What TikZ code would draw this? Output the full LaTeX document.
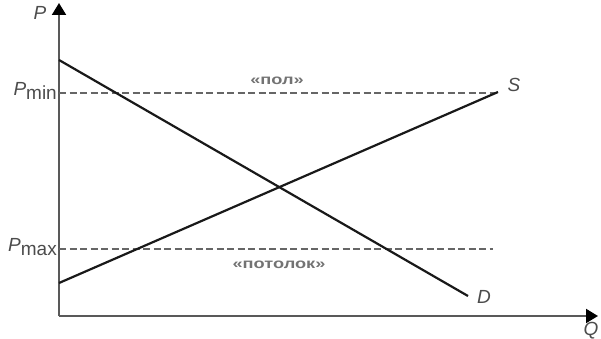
\documentclass[tikz,border=0pt]{standalone}
\usepackage{fontspec}
\setmainfont{Liberation Sans}
\newfontfamily\levelfont[FakeStretch=1.3]{Liberation Sans}
\usetikzlibrary{arrows.meta, positioning}

\tikzset{
    axis/.style={draw=black!65, line width=2pt, -{Triangle[length=12pt,width=14pt,black]}},
    curve/.style={draw=black!90, line width=2.2pt},
    level/.style={draw=black!60, line width=1.4pt, dash pattern=on 7pt off 3.5pt},
    biglab/.style={font=\fontsize{19}{19}\selectfont\itshape, text=black!70, inner sep=0pt},
    smalllab/.style={font=\levelfont\fontsize{14}{14}\selectfont\bfseries, text=black!55, inner sep=0pt}
}

\begin{document}
\begin{tikzpicture}[x=1pt,y=-1pt]
\useasboundingbox (0,0) rectangle (601,339);

% Axes
\coordinate (O) at (59,316);
\coordinate (Ptop) at (59,3);
\coordinate (Qend) at (598,316);
\draw[axis] (O) -- (Ptop);
\draw[axis] (O) -- (Qend);
\node[biglab] (Plab) at (40,13) {P};
\node[biglab] (Qlab) at (591,331) {Q};

% Price levels
\coordinate (minL) at (59,93);
\coordinate (minR) at (497,93);
\coordinate (maxL) at (59,249);
\coordinate (maxR) at (493,249);
\draw[level] (minL) -- (minR);
\draw[level] (maxL) -- (maxR);
\node[biglab, anchor=east] (Pmin) at (57,91) {P\raisebox{-4pt}{\upshape min}};
\node[biglab, anchor=east] (Pmax) at (57,247) {P\raisebox{-4pt}{\upshape max}};

% Labels for floor and ceiling
\node[smalllab] (floor) at (277,81) {«пол»};
\node[smalllab] (ceil) at (279,265) {«потолок»};

% Demand and supply
\coordinate (Dstart) at (59,60);
\coordinate (Dend) at (468,296);
\coordinate (Sstart) at (59,283);
\coordinate (Send) at (498,92);
\draw[curve] (Dstart) -- (Dend);
\draw[curve] (Sstart) -- (Send);
\node[biglab] (Slab) at (514,85) {S};
\node[biglab] (Dlab) at (484,297) {D};

\end{tikzpicture}
\end{document}
